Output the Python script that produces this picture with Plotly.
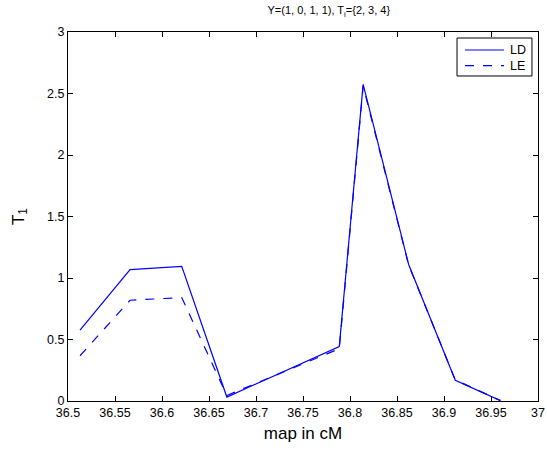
import plotly.graph_objects as go

x_cm = [36.5128, 36.566, 36.621, 36.669, 36.7886, 36.814, 36.8624, 36.912, 36.96]
ld = [0.577, 1.068, 1.095, 0.032, 0.443, 2.574, 1.11, 0.168, 0.003]
le = [0.368, 0.819, 0.841, 0.045, 0.425, 2.56, 1.105, 0.172, 0.003]

x_ticks = [36.5, 36.55, 36.6, 36.65, 36.7, 36.75, 36.8, 36.85, 36.9, 36.95, 37]
y_ticks = [0, 0.5, 1, 1.5, 2, 2.5, 3]
series_names = ["LD", "LE"]
series_dash = ["solid", "dash"]

fig = go.Figure()
for name, vals, dash in zip(series_names, [ld, le], series_dash):
    fig.add_trace(go.Scatter(x=x_cm, y=vals, mode="lines", name=name,
                             line=dict(color="#0000ff", width=1.2, dash=dash),
                             showlegend=False))

# MATLAB-style legend box (paper coordinates)
fig.add_shape(type="rect", xref="paper", yref="paper",
              x0=0.8277, x1=0.9872, y0=0.8808, y1=0.9837,
              line=dict(color="black", width=1), fillcolor="white", layer="above")
legend_rows_y = [0.9512, 0.9087]
for name, dash, yy in zip(series_names, series_dash, legend_rows_y):
    fig.add_shape(type="line", xref="paper", yref="paper",
                  x0=0.8447, x1=0.9277, y0=yy, y1=yy,
                  line=dict(color="#0000ff", width=1.2, dash=dash), layer="above")
    fig.add_annotation(xref="paper", yref="paper", x=0.9362, y=yy,
                       xanchor="left", yanchor="middle", text=name,
                       showarrow=False, font=dict(size=12.5))

fig.update_layout(
    width=547, height=450,
    margin=dict(l=68, r=9, t=32, b=49, autoexpand=False),
    paper_bgcolor="white", plot_bgcolor="white",
    font=dict(family="Liberation Sans, Arial, sans-serif", size=12.5, color="black"),
    title=dict(text="Y=(1, 0, 1, 1), T<sub>i</sub>={2, 3, 4}", x=0.555, xref="paper",
               y=0.985, yanchor="top", font=dict(size=11)),
    showlegend=False,
)
fig.update_xaxes(range=[36.5, 37], tickvals=x_ticks,
                 ticktext=[f"{v:g}" for v in x_ticks], automargin=False,
                 ticks="inside", ticklen=5, tickcolor="black",
                 showline=True, linecolor="black", linewidth=1, mirror="ticks",
                 showgrid=False, zeroline=False,
                 title=dict(text="map in cM", font=dict(size=17), standoff=8))
fig.update_yaxes(range=[0, 3], tickvals=y_ticks,
                 ticktext=[f"{v:g}" for v in y_ticks], automargin=False,
                 ticks="inside", ticklen=5, tickcolor="black",
                 showline=True, linecolor="black", linewidth=1, mirror="ticks",
                 showgrid=False, zeroline=False,
                 title=dict(text="T<sub>1</sub>", font=dict(size=17), standoff=18))

fig.write_html("out.html")
